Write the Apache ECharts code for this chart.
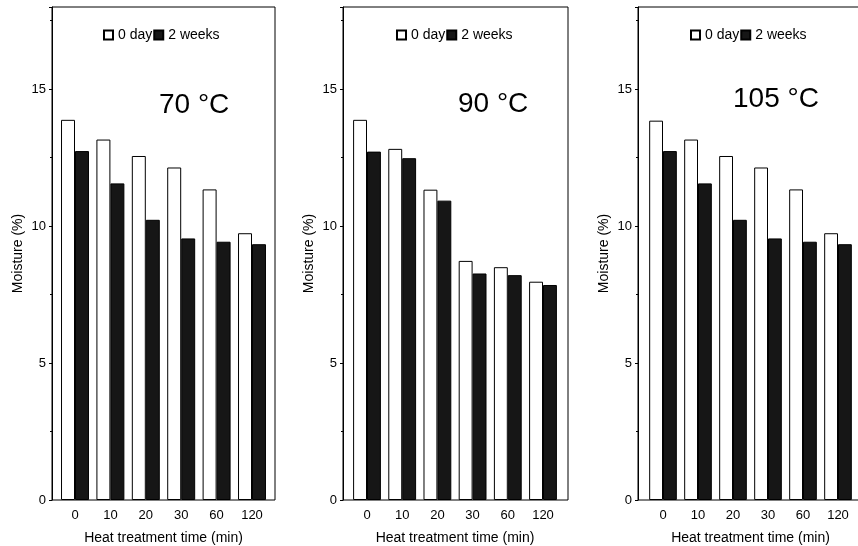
<!DOCTYPE html>
<html>
<head>
<meta charset="utf-8">
<script src="https://cdn.jsdelivr.net/npm/echarts@6/dist/echarts.min.js"></script>
<style>
  html, body { margin: 0; padding: 0; background: #fff; }
  #chart { width: 858px; height: 546px; }
</style>
</head>
<body>
<div id="chart"></div>
<script>
// heat treatment times (min)
const categories = ['0', '10', '20', '30', '60', '120']
const seriesNames = ['0 day', '2 weeks']

// moisture (%)
const day0_70 = [13.88, 13.16, 12.56, 12.14, 11.34, 9.74]
const week2_70 = [12.74, 11.56, 10.23, 9.55, 9.43, 9.34]
const day0_90 = [13.88, 12.82, 11.33, 8.73, 8.50, 7.97]
const week2_90 = [12.72, 12.48, 10.93, 8.27, 8.21, 7.85]
const day0_105 = [13.85, 13.16, 12.56, 12.14, 11.34, 9.74]
const week2_105 = [12.74, 11.56, 10.23, 9.55, 9.43, 9.34]

const panelTitles = ['70 °C', '90 °C', '105 °C']
const yTicks = [0, 5, 10, 15]

const FONT = 'Liberation Sans, Arial, sans-serif'

// panel layout (px)
const panels = [
  { frameLeft: 52, frameRight: 275, barLeft: 57.3, barWidth: 212.4, legendLeft: 103, titleLeft: 159, titleTop: 91,
    day0: day0_70, week2: week2_70 },
  { frameLeft: 343, frameRight: 568, barLeft: 349.4, barWidth: 211.2, legendLeft: 396, titleLeft: 458, titleTop: 90,
    day0: day0_90, week2: week2_90 },
  { frameLeft: 638, frameRight: 864, barLeft: 645.5, barWidth: 210, legendLeft: 690, titleLeft: 733, titleTop: 85,
    day0: day0_105, week2: week2_105 }
]

const chart = echarts.init(document.getElementById('chart'))

const grid = []
const xAxis = []
const yAxis = []
const series = []
const legend = []
const title = []

panels.forEach((p, i) => {
  const frameIdx = i * 2
  const barIdx = i * 2 + 1

  // frame with y axis
  grid.push({
    left: p.frameLeft, width: p.frameRight - p.frameLeft, top: 7, bottom: 46,
    show: true, borderColor: '#000', borderWidth: 1, backgroundColor: 'transparent',
    outerBoundsMode: 'none'
  })
  // bars
  grid.push({
    left: p.barLeft, width: p.barWidth, top: 7, bottom: 46,
    outerBoundsMode: 'none'
  })

  xAxis.push({
    type: 'value', gridIndex: frameIdx, min: 0, max: 1, show: false
  })
  xAxis.push({
    type: 'category', gridIndex: barIdx, data: categories,
    axisLine: { show: false },
    axisTick: { show: false },
    axisLabel: { color: '#000', fontSize: 13, fontFamily: FONT, margin: 9 },
    name: 'Heat treatment time (min)',
    nameLocation: 'middle',
    nameGap: 31,
    nameTextStyle: { color: '#000', fontSize: 14, fontFamily: FONT }
  })

  yAxis.push({
    type: 'value', gridIndex: frameIdx, min: 0, max: 18, interval: 5,
    axisLine: { show: true, lineStyle: { color: '#000', width: 1 } },
    axisTick: { show: true, length: 3, lineStyle: { color: '#000' } },
    minorTick: { show: true, splitNumber: 2, length: 2, lineStyle: { color: '#000' } },
    splitLine: { show: false },
    axisLabel: {
      color: '#000', fontSize: 13, fontFamily: FONT, margin: 6,
      formatter: v => (yTicks.includes(v) ? String(v) : '')
    },
    name: 'Moisture (%)',
    nameLocation: 'middle',
    nameGap: 27,
    nameTextStyle: { color: '#000', fontSize: 14, fontFamily: FONT }
  })
  yAxis.push({
    type: 'value', gridIndex: barIdx, min: 0, max: 18, show: false
  })

  series.push({
    name: seriesNames[0], type: 'bar', xAxisIndex: barIdx, yAxisIndex: barIdx,
    data: p.day0, barGap: '0%', barCategoryGap: '21%',
    itemStyle: { color: '#fff', borderColor: '#000', borderWidth: 1 },
    emphasis: { disabled: true }
  })
  series.push({
    name: seriesNames[1], type: 'bar', xAxisIndex: barIdx, yAxisIndex: barIdx,
    data: p.week2, barGap: '0%', barCategoryGap: '21%',
    itemStyle: { color: '#161616', borderColor: '#000', borderWidth: 1 },
    emphasis: { disabled: true }
  })

  legend.push({
    data: seriesNames, left: p.legendLeft, top: 28, padding: 0,
    icon: 'rect', itemWidth: 9, itemHeight: 9, itemGap: 1, selectedMode: false,
    textStyle: { color: '#000', fontSize: 14, fontFamily: FONT }
  })

  title.push({
    text: panelTitles[i], left: p.titleLeft, top: p.titleTop, padding: 0,
    textStyle: { color: '#000', fontSize: 28, fontWeight: 'normal', fontFamily: FONT }
  })
})

chart.setOption({
  animation: false,
  backgroundColor: '#fff',
  title,
  legend,
  grid,
  xAxis,
  yAxis,
  series
})
</script>
</body>
</html>
